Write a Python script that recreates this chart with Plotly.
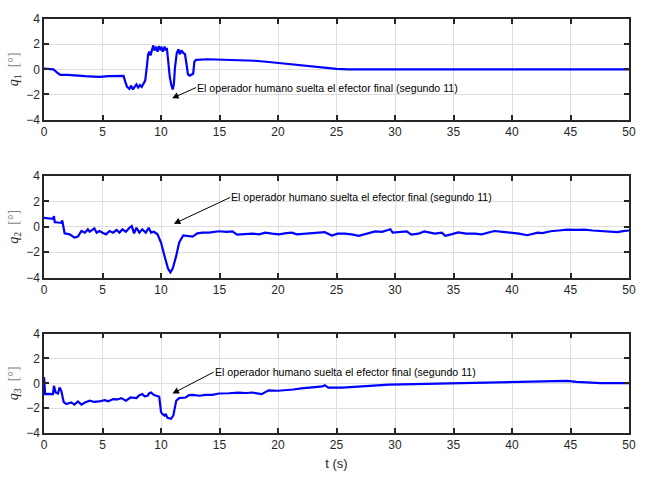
import plotly.graph_objects as go

# ---- data ----
t1 = [0, 0.4, 0.8, 1.1, 1.4, 2, 2.5, 3, 3.5, 4.2, 4.8, 5.5, 6.2, 6.8, 6.95, 7.1, 7.3, 7.45, 7.6, 7.75,
      7.9, 8.05, 8.2, 8.35, 8.5, 8.65, 8.8, 8.9, 9.0, 9.1, 9.25, 9.35, 9.45, 9.6, 9.7, 9.85, 9.95, 10.05,
      10.15, 10.3, 10.4, 10.5, 10.6, 10.75, 10.9, 11.0, 11.1, 11.2, 11.35, 11.5, 11.6, 11.75, 11.9, 12.05,
      12.2, 12.3, 12.45, 12.6, 12.75, 12.85, 13.0, 14, 15, 16, 17, 18, 19, 20, 21, 22, 23, 24, 25, 26,
      30, 40, 50]
q1 = [0.05, 0.02, 0.0, -0.25, -0.45, -0.45, -0.5, -0.52, -0.55, -0.58, -0.6, -0.55, -0.52, -0.52, -1.0,
      -1.4, -1.55, -1.3, -1.6, -1.35, -1.2, -1.45, -1.25, -1.4, -1.2, -0.9, 0.3, 1.2, 1.4, 1.1, 1.6, 1.9,
      1.5, 1.8, 1.4, 1.85, 1.6, 1.7, 1.4, 1.8, 1.5, 1.7, 0.8, -0.6, -1.3, -1.6, -1.2, 0.2, 1.3, 1.6, 1.2,
      1.5, 1.3, 1.2, 0.3, -0.4, -0.5, -0.4, -0.35, 0.6, 0.75, 0.8, 0.77, 0.76, 0.73, 0.68, 0.6, 0.5, 0.4,
      0.3, 0.2, 0.1, 0.03, 0.0, 0.0, 0.0, 0.0]

t2 = [0, 0.4, 0.77, 0.85, 0.92, 1.2, 1.48, 1.56, 1.76, 2.2, 2.6, 2.9, 3.2, 3.5, 3.75, 3.9, 4.3, 4.5, 4.74,
      5.0, 5.3, 5.6, 5.9, 6.2, 6.45, 6.7, 7.0, 7.3, 7.5, 7.7, 7.9, 8.15, 8.4, 8.7, 8.95, 9.15, 9.4, 9.7,
      10.0, 10.3, 10.6, 10.8, 11.0, 11.3, 11.55, 11.9, 12.3, 12.7, 13.1, 13.55, 14.1, 14.95, 15.6, 16.1,
      16.5, 17.2, 17.8, 18.4, 18.9, 19.5, 20.1, 20.7, 21.2, 21.6, 22.3, 23.2, 24.0, 24.6, 25.1, 25.7,
      26.3, 26.9, 27.5, 28.3, 28.9, 29.6, 29.8, 30.4, 31.0, 31.4, 32.0, 32.5, 33.1, 33.4, 34.0, 34.3,
      34.8, 35.4, 36.1, 36.8, 37.4, 38.2, 38.5, 39.2, 39.9, 40.6, 41.3, 41.8, 42.2, 42.6, 43.3, 44.0,
      44.7, 45.5, 46.2, 46.9, 47.6, 48.3, 49.0, 49.5, 50]
q2 = [0.7, 0.65, 0.62, 0.83, 0.36, 0.33, 0.31, 0.5, -0.52, -0.6, -0.86, -0.78, -0.34, -0.47, -0.2, -0.4,
      -0.13, -0.47, -0.34, -0.47, -0.6, -0.34, -0.47, -0.26, -0.47, -0.2, -0.4, -0.08, 0.05, -0.52, -0.08,
      -0.47, -0.2, -0.47, -0.08, -0.47, -0.4, -0.6, -1.25, -2.3, -3.3, -3.6, -3.3, -2.3, -1.25, -0.68,
      -0.73, -0.78, -0.52, -0.47, -0.47, -0.36, -0.4, -0.37, -0.62, -0.6, -0.54, -0.6, -0.47, -0.55, -0.6,
      -0.5, -0.47, -0.6, -0.54, -0.47, -0.43, -0.7, -0.55, -0.54, -0.6, -0.72, -0.55, -0.37, -0.4, -0.2,
      -0.47, -0.45, -0.37, -0.62, -0.55, -0.37, -0.45, -0.54, -0.47, -0.72, -0.6, -0.45, -0.55, -0.54,
      -0.6, -0.37, -0.34, -0.4, -0.47, -0.55, -0.67, -0.55, -0.47, -0.5, -0.36, -0.3, -0.23, -0.25,
      -0.23, -0.3, -0.36, -0.4, -0.43, -0.35, -0.3]

t3 = [0, 0.1, 0.4, 0.77, 0.85, 1.0, 1.2, 1.33, 1.48, 1.68, 1.9, 2.1, 2.33, 2.6, 2.9, 3.2, 3.5, 3.9, 4.3,
      4.7, 5.2, 5.5, 5.9, 6.3, 6.6, 7.0, 7.4, 7.9, 8.15, 8.4, 8.6, 8.85, 9.0, 9.15, 9.4, 9.6, 9.85, 10.0,
      10.1, 10.3, 10.4, 10.55, 10.7, 10.85, 11.05, 11.3, 11.55, 12.1, 12.4, 12.7, 13.3, 13.8, 14.4, 14.95,
      15.8, 16.6, 17.3, 17.8, 18.6, 19.2, 20.0, 20.6, 21.3, 22.0, 23.0, 23.8, 24.0, 24.3, 25.5, 26.3,
      27.0, 27.7, 28.6, 29.5, 30.6, 32, 33.4, 34.8, 36.2, 37.7, 39.1, 40.5, 41.9, 43.3, 44.7, 45.5, 46.2,
      47.6, 49, 50]
q3 = [0.5, -0.87, -0.85, -0.87, -0.2, -0.74, -0.82, -0.34, -0.6, -1.5, -1.67, -1.6, -1.54, -1.72, -1.46,
      -1.72, -1.54, -1.4, -1.5, -1.46, -1.35, -1.45, -1.27, -1.3, -1.19, -1.4, -1.14, -1.19, -0.95, -0.87,
      -1.05, -1.0, -0.8, -0.74, -0.95, -1.0, -1.08, -2.3, -2.46, -2.6, -2.46, -2.78, -2.85, -2.86, -2.6,
      -1.4, -1.19, -1.14, -0.95, -0.93, -1.0, -0.93, -0.93, -0.82, -0.8, -0.75, -0.78, -0.74, -0.87,
      -0.56, -0.6, -0.56, -0.5, -0.4, -0.32, -0.25, -0.15, -0.35, -0.35, -0.3, -0.26, -0.2, -0.1, -0.1,
      -0.08, -0.05, -0.03, 0.0, 0.02, 0.05, 0.08, 0.1, 0.14, 0.15, 0.19, 0.12, 0.08, 0.02, 0.02, 0.02]

x_ticks = [0, 5, 10, 15, 20, 25, 30, 35, 40, 45, 50]
y_ticks = [-4, -2, 0, 2, 4]
y_titles = ["<i>q</i><sub>1</sub>  <span style='color:#7f7f7f'>[°]</span>",
            "<i>q</i><sub>2</sub>  <span style='color:#7f7f7f'>[°]</span>",
            "<i>q</i><sub>3</sub>  <span style='color:#7f7f7f'>[°]</span>"]
note = "El operador humano suelta el efector final (segundo 11)"
# arrow head (t, q) and text start (t, q)
arrow_heads = [(10.95, -2.3), (11.1, 0.23), (10.98, -0.82)]
text_start = [(13.0, -1.45), (15.9, 2.3), (14.5, 0.9)]

FONT = "Liberation Sans, Arial, sans-serif"
DARK = "#262626"
domains = [[0.757, 1.0], [0.3756, 0.621], [0.0, 0.24]]

fig = go.Figure()
series = [(t1, q1), (t2, q2), (t3, q3)]
for i, (tt, qq) in enumerate(series):
    sfx = "" if i == 0 else str(i + 1)
    fig.add_trace(go.Scatter(x=tt, y=qq, mode="lines", line=dict(color="#0000ff", width=2.2),
                             xaxis="x" + sfx, yaxis="y" + sfx, showlegend=False))

layout = dict(
    width=648, height=488,
    margin=dict(l=43, r=19, t=15, b=55),
    paper_bgcolor="white", plot_bgcolor="white",
    font=dict(family=FONT, size=12, color=DARK),
    showlegend=False,
)
axis_common = dict(showline=True, linecolor=DARK, linewidth=1.5, mirror="ticks",
                   ticks="inside", ticklen=5, tickwidth=1.5, tickcolor=DARK,
                   showgrid=True, gridcolor="#dedede", gridwidth=1, zeroline=False,
                   tickfont=dict(family=FONT, size=12, color=DARK))
for i in range(3):
    sfx = "" if i == 0 else str(i + 1)
    xa = dict(axis_common, range=[0, 50], tickvals=x_ticks, anchor="y" + sfx)
    if i > 0:
        xa["matches"] = "x"
    if i == 2:
        xa["title"] = dict(text="t (s)", font=dict(family=FONT, size=13, color=DARK), standoff=8)
    ya = dict(axis_common, range=[-4, 4], tickvals=y_ticks, domain=domains[i], anchor="x" + sfx,
              title=dict(text=y_titles[i], font=dict(family="Liberation Serif, serif", size=14, color=DARK),
                         standoff=4))
    layout["xaxis" + sfx] = xa
    layout["yaxis" + sfx] = ya

annotations = []
for i in range(3):
    sfx = "" if i == 0 else str(i + 1)
    hx, hy = arrow_heads[i]
    tx, ty = text_start[i]
    annotations.append(dict(x=hx, y=hy, ax=tx, ay=ty, xref="x" + sfx, yref="y" + sfx,
                            axref="x" + sfx, ayref="y" + sfx, text=note, showarrow=True,
                            xanchor="left", yanchor="middle", borderpad=0,
                            arrowhead=2, arrowsize=1.3, arrowwidth=1, arrowcolor="black",
                            font=dict(family=FONT, size=10.6, color="black")))
layout["annotations"] = annotations
fig.update_layout(**layout)
fig.write_html("out.html")
